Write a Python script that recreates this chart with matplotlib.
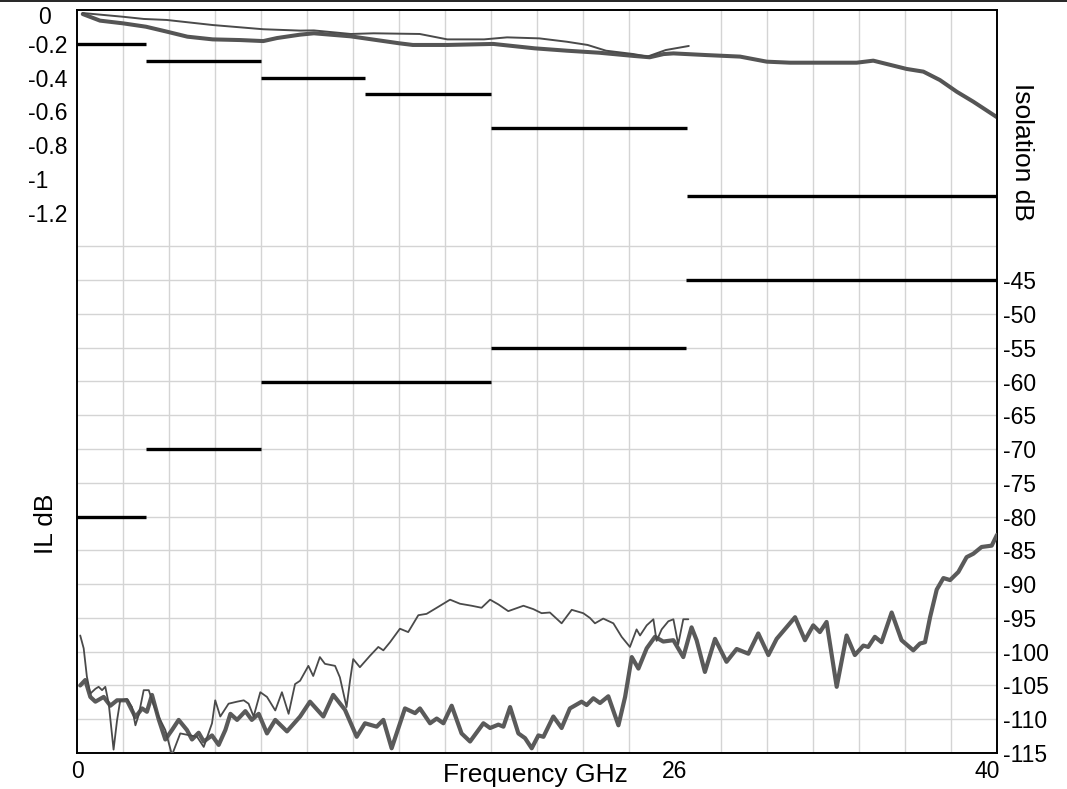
import matplotlib
matplotlib.use('Agg')
import matplotlib.pyplot as plt
from matplotlib.transforms import ScaledTranslation
from matplotlib.lines import Line2D
import numpy as np

plt.rcParams['font.family'] = ['Liberation Sans', 'DejaVu Sans']

# ---------------- data ----------------
# Insertion loss spec (left axis, dB)
il_spec_val = [-0.2, -0.3, -0.4, -0.5, -0.7, -1.1]
il_spec_start = [0, 3, 8, 12.5, 18, 26.5]
il_spec_end = [3, 8, 12.5, 18, 26.5, 40]

# Isolation spec (right axis, dB)
iso_spec_val = [-80, -70, -60, -55, -45]
iso_spec_start = [0, 3, 8, 18, 26.5]
iso_spec_end = [3, 8, 18, 26.5, 40]

# Insertion loss, 40 GHz part (thick)
il40_f = [0.25, 1.0, 2.0, 3.0, 3.9, 4.8, 5.9, 7.1, 8.1, 8.7, 9.7, 10.3, 11.9,
          14.0, 14.6, 16.1, 18.1, 19.9, 21.3, 22.7, 24.2, 24.9, 25.5, 25.93,
          27.38, 28.83, 29.99, 31.0, 33.9, 34.62, 36.07, 36.8, 37.52, 38.25,
          38.97, 40.0]
il40_db = [-0.024, -0.063, -0.079, -0.099, -0.128, -0.158, -0.174, -0.178,
           -0.184, -0.166, -0.146, -0.138, -0.156, -0.197, -0.207, -0.207,
           -0.201, -0.227, -0.241, -0.253, -0.272, -0.280, -0.261, -0.257,
           -0.267, -0.276, -0.306, -0.312, -0.312, -0.300, -0.349, -0.365,
           -0.415, -0.484, -0.543, -0.635]

# Insertion loss, 26.5 GHz part (thin)
il26_f = [0.25, 2.0, 2.9, 3.9, 5.9, 8.1, 9.7, 10.3, 11.9, 12.9, 14.9, 16.1,
          17.7, 18.7, 20.1, 21.3, 22.2, 23.0, 24.2, 24.8, 25.6, 26.6]
il26_db = [-0.018, -0.040, -0.053, -0.059, -0.089, -0.114, -0.122, -0.121,
           -0.142, -0.138, -0.142, -0.174, -0.174, -0.162, -0.168, -0.188,
           -0.207, -0.241, -0.261, -0.276, -0.237, -0.213]

# Isolation, 40 GHz part (thick)
iso40_f = [0.14, 0.36, 0.58, 0.80, 1.16, 1.45, 1.74, 2.17, 2.54, 2.83, 3.04,
           3.26, 3.55, 3.84, 4.13, 4.42, 4.78, 5.00, 5.29, 5.51, 5.87, 6.16,
           6.45, 6.67, 6.96, 7.32, 7.60, 7.90, 8.26, 8.62, 9.13, 9.70, 10.13,
           10.71, 11.14, 11.65, 12.16, 12.52, 13.03, 13.32, 13.68, 14.26,
           14.70, 14.91, 15.35, 15.64, 15.93, 16.29, 16.72, 17.09, 17.67,
           17.96, 18.32, 18.54, 18.83, 19.19, 19.48, 19.77, 20.06, 20.28,
           20.71, 21.07, 21.43, 21.94, 22.16, 22.45, 22.74, 23.10, 23.54,
           23.83, 24.12, 24.41, 24.77, 25.13, 25.49, 25.93, 26.36, 26.72,
           26.94, 27.30, 27.74, 28.24, 28.68, 29.19, 29.62, 30.06, 30.42,
           31.22, 31.65, 32.01, 32.30, 32.59, 33.03, 33.46, 33.82, 34.19,
           34.40, 34.69, 34.98, 35.42, 35.85, 36.36, 36.65, 36.87, 37.09,
           37.38, 37.67, 37.96, 38.32, 38.68, 38.97, 39.33, 39.77, 40.0]
iso40_db = [-105.0, -104.2, -106.7, -107.4, -106.7, -108.0, -107.2, -107.2,
            -109.7, -108.4, -108.9, -106.4, -110.0, -113.0, -111.6, -110.1,
            -111.6, -113.0, -112.0, -113.3, -112.4, -113.8, -111.6, -109.2,
            -110.1, -108.8, -110.1, -109.2, -112.1, -110.1, -111.8, -109.6,
            -107.4, -109.6, -106.4, -108.6, -112.6, -110.6, -111.1, -110.1,
            -114.3, -108.4, -109.1, -108.4, -110.6, -109.9, -110.6, -108.0,
            -112.1, -113.3, -110.6, -111.3, -110.8, -111.1, -108.2, -112.1,
            -112.8, -114.3, -112.4, -112.6, -109.6, -111.3, -108.4, -107.4,
            -107.9, -106.9, -107.6, -106.6, -110.9, -106.7, -100.8, -102.5,
            -99.5, -97.8, -98.5, -98.3, -100.8, -96.4, -98.3, -103.0, -98.1,
            -101.5, -99.6, -100.3, -97.3, -100.5, -98.1, -94.9, -98.3, -96.1,
            -97.1, -95.6, -105.2, -97.6, -100.5, -99.1, -99.3, -97.8, -98.6,
            -94.2, -98.3, -99.8, -98.8, -98.6, -94.9, -90.8, -89.1, -89.4,
            -88.2, -86.0, -85.5, -84.5, -84.3, -82.7]

# Isolation, 26.5 GHz part (thin)
iso26_f = [0.14, 0.29, 0.43, 0.58, 0.80, 0.94, 1.09, 1.23, 1.38, 1.59, 1.74,
           1.88, 2.17, 2.39, 2.54, 2.68, 2.90, 3.12, 3.33, 3.55, 3.84, 4.13,
           4.49, 4.93, 5.22, 5.51, 5.87, 6.01, 6.23, 6.59, 6.96, 7.25, 7.46,
           7.68, 7.97, 8.26, 8.62, 8.91, 9.20, 9.48, 9.70, 10.06, 10.27,
           10.56, 10.78, 11.22, 11.43, 11.72, 11.87, 12.01, 12.30, 12.74,
           13.10, 13.32, 13.61, 14.04, 14.40, 14.84, 15.20, 15.64, 16.22,
           16.65, 17.16, 17.59, 17.96, 18.32, 18.75, 19.41, 19.84, 20.20,
           20.56, 21.07, 21.51, 22.01, 22.30, 22.52, 22.88, 23.32, 23.68,
           24.04, 24.33, 24.48, 24.77, 25.06, 25.20, 25.42, 25.71, 25.93,
           26.14, 26.36, 26.58]
iso26_db = [-97.6, -99.5, -103.7, -106.2, -105.5, -105.2, -105.7, -105.2,
            -107.7, -114.5, -110.2, -107.2, -107.0, -108.2, -110.9, -109.4,
            -105.7, -105.7, -107.9, -109.6, -111.6, -115.3, -112.1, -112.4,
            -112.6, -114.1, -110.6, -107.2, -109.6, -107.7, -107.4, -107.2,
            -107.7, -109.6, -106.0, -106.7, -108.7, -106.0, -109.2, -104.8,
            -104.3, -102.1, -103.6, -100.8, -101.8, -102.1, -103.8, -108.2,
            -104.3, -101.1, -102.3, -100.6, -99.3, -99.8, -98.6, -96.6,
            -97.1, -94.6, -94.4, -93.5, -92.3, -92.9, -93.2, -93.5, -92.3,
            -93.0, -94.0, -93.2, -93.7, -94.3, -94.2, -95.8, -93.8, -94.3,
            -95.0, -95.8, -95.1, -95.8, -97.8, -99.3, -96.7, -97.6, -96.1,
            -95.2, -98.4, -96.7, -95.5, -95.2, -98.9, -95.2, -95.2]

# Axis ticks
x_ticks = [0, 26, 40]
il_ticks = [0, -0.2, -0.4, -0.6, -0.8, -1, -1.2]
il_tick_labels = ['0', '-0.2', '-0.4', '-0.6', '-0.8', '-1', '-1.2']
iso_ticks = [-45, -50, -55, -60, -65, -70, -75, -80, -85, -90, -95, -100,
             -105, -110, -115]

# ---------------- figure ----------------
W, H = 1067, 789
fig = plt.figure(figsize=(W / 100, H / 100), dpi=100)
ax = fig.add_axes([77 / W, 1 - 753 / H, 920 / W, 743 / H])
ax2 = ax.twinx()

ax.set_xlim(0, 40)
ax.set_ylim(-4.4, 0)
ax2.set_ylim(-115, -5)

grid_c = '#d4d4d4'
ax.set_xticks(np.arange(0, 41, 2), minor=True)
ax.set_yticks(np.arange(-4.4, 0.01, 0.2), minor=True)
ax.grid(which='minor', color=grid_c, lw=1.0)
ax.grid(which='major', visible=False)
ax.set_axisbelow(True)

tick_fs = 16.5
ax.set_xticks(x_ticks, [str(v) for v in x_ticks])
ax.set_yticks(il_ticks, il_tick_labels)
ax2.set_yticks(iso_ticks, [str(v) for v in iso_ticks])
ax2.set_yticks([], minor=True)

ax.tick_params(axis='both', which='both', length=0)
ax2.tick_params(axis='both', which='both', length=0)
ax.tick_params(axis='x', labelsize=tick_fs, pad=5)
ax.tick_params(axis='y', labelsize=tick_fs, pad=35)
ax2.tick_params(axis='y', labelsize=tick_fs, pad=4.5)
for lbl in ax.get_yticklabels():
    lbl.set_ha('left')

# small manual nudges of individual labels (as in the original)
lbl0 = ax.get_yticklabels()[0]
lbl0.set_transform(lbl0.get_transform() +
                   ScaledTranslation(10 / 100, -5 / 100, fig.dpi_scale_trans))
lbl40 = ax.get_xticklabels()[-1]
lbl40.set_transform(lbl40.get_transform() +
                    ScaledTranslation(-10 / 100, 0, fig.dpi_scale_trans))

for a in (ax, ax2):
    for s in a.spines.values():
        s.set_color('black')
        s.set_linewidth(1.2)

# spec limit lines
ax.hlines(il_spec_val, il_spec_start, il_spec_end, color='black', lw=2.4,
          zorder=3)
ax2.hlines(iso_spec_val, iso_spec_start, iso_spec_end, color='black', lw=2.4,
           zorder=3)

# measured curves
kw = dict(solid_joinstyle='round', solid_capstyle='round', zorder=4)
ax.plot(il40_f, il40_db, color='#555555', lw=2.9, **kw)
ax.plot(il26_f, il26_db, color='#4a4a4a', lw=1.4, **kw)
ax2.plot(iso40_f, iso40_db, color='#5a5a5a', lw=3.0, **kw)
ax2.plot(iso26_f, iso26_db, color='#4a4a4a', lw=1.3, **kw)

# axis labels
lab_fs = 19
ax.set_xlabel('Frequency GHz', fontsize=lab_fs)
ax.xaxis.set_label_coords((535 - 77) / 920, -(782 - 753) / 743)
ax.xaxis.label.set_va('baseline')
ax.set_ylabel('IL dB', fontsize=lab_fs)
ax.yaxis.set_label_coords((46 - 77) / 920, (753 - 524) / 743)
ax.yaxis.label.set_va('center')
ax2.set_ylabel('Isolation dB', fontsize=lab_fs, rotation=270)
ax2.yaxis.set_label_coords((1022 - 77) / 920, (753 - 152) / 743)
ax2.yaxis.label.set_va('center')
ax2.yaxis.label.set_ha('center')

# thin frame line at the very top of the image
fig.add_artist(Line2D([0, 1], [1 - 0.6 / H, 1 - 0.6 / H], color='black',
                      lw=1.2, transform=fig.transFigure))

fig.savefig('out.png', dpi=100)
